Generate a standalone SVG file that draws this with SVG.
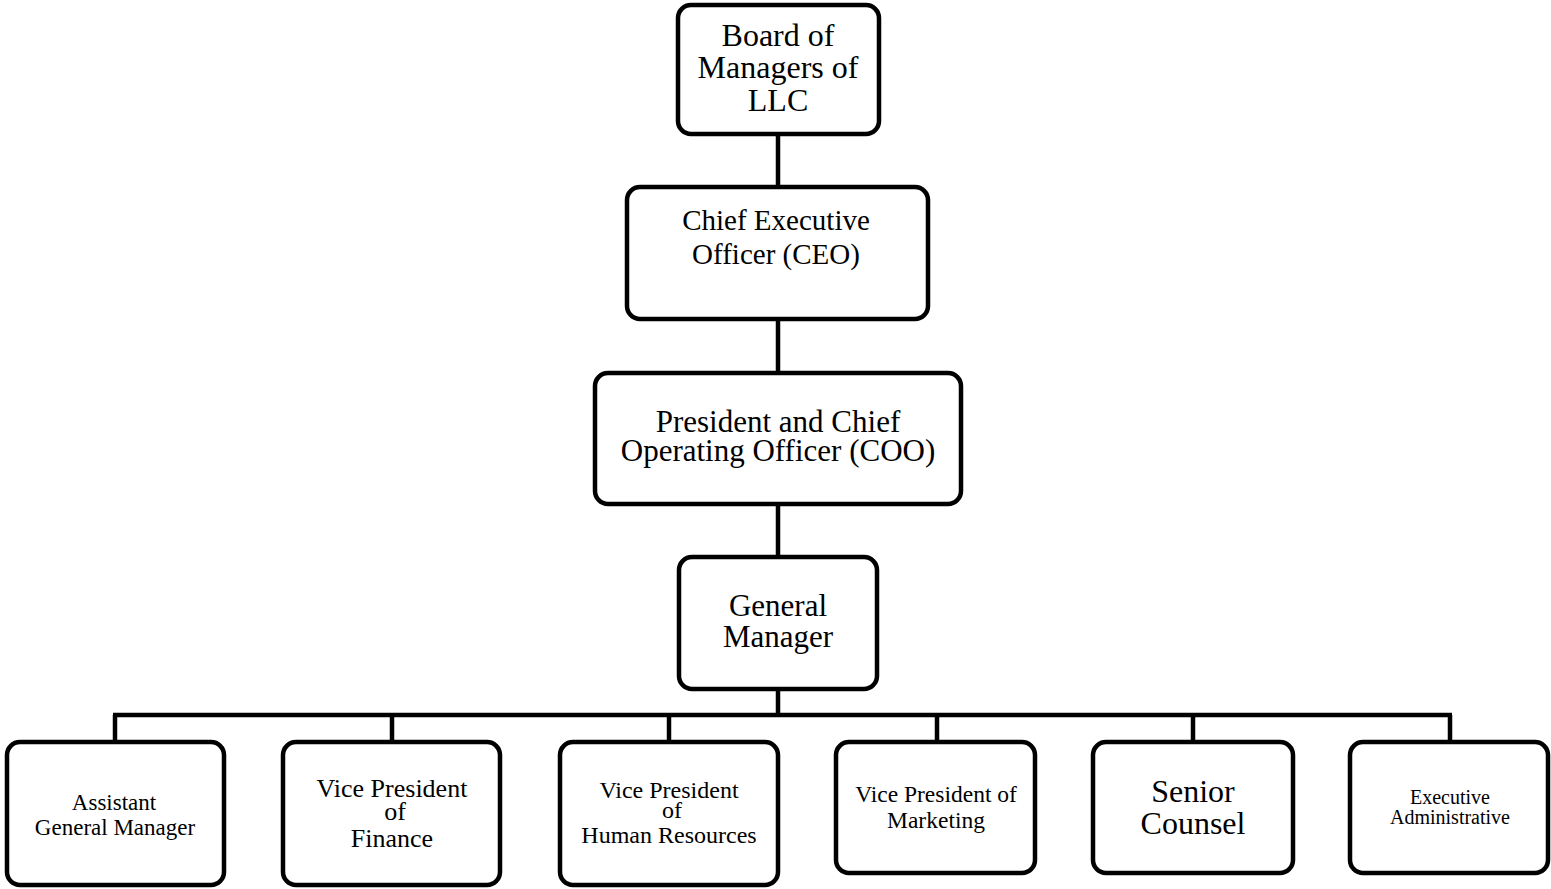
<svg xmlns="http://www.w3.org/2000/svg" width="1551" height="889" viewBox="0 0 1551 889">
<style>
.box{fill:#fff;stroke:#000;stroke-width:4.5}
.ln{stroke:#000;stroke-width:4.5;fill:none}
text{font-family:"Liberation Serif","Times New Roman",serif;fill:#000;text-anchor:middle}
</style>
<rect width="1551" height="889" fill="#fff"/>
<g id="connectors">
<line class="ln" x1="778" y1="134" x2="778" y2="188"/>
<line class="ln" x1="778" y1="319" x2="778" y2="374"/>
<line class="ln" x1="778" y1="504" x2="778" y2="558"/>
<line class="ln" x1="778" y1="689" x2="778" y2="715"/>
<line class="ln" x1="113" y1="715" x2="1452" y2="715"/>
<line class="ln" x1="115" y1="715" x2="115" y2="742"/>
<line class="ln" x1="392" y1="715" x2="392" y2="742"/>
<line class="ln" x1="669" y1="715" x2="669" y2="742"/>
<line class="ln" x1="937" y1="715" x2="937" y2="742"/>
<line class="ln" x1="1193" y1="715" x2="1193" y2="742"/>
<line class="ln" x1="1450" y1="715" x2="1450" y2="742"/>
</g>
<g id="board">
<rect class="box" x="678" y="5" width="201" height="129" rx="13"/>
<text font-size="32"><tspan x="778" y="46">Board of</tspan><tspan x="778" y="78">Managers of</tspan><tspan x="778" y="111">LLC</tspan></text>
</g>
<g id="ceo">
<rect class="box" x="627" y="187" width="301" height="132" rx="13"/>
<text font-size="29"><tspan x="776" y="230">Chief Executive</tspan><tspan x="776" y="264">Officer (CEO)</tspan></text>
</g>
<g id="coo">
<rect class="box" x="595" y="373" width="366" height="131" rx="13"/>
<text font-size="31"><tspan x="778" y="432">President and Chief</tspan><tspan x="778" y="461">Operating Officer (COO)</tspan></text>
</g>
<g id="gm">
<rect class="box" x="679" y="557" width="198" height="132" rx="13"/>
<text font-size="31"><tspan x="778" y="616">General</tspan><tspan x="778" y="647">Manager</tspan></text>
</g>
<g id="agm">
<rect class="box" x="7" y="742" width="217" height="143" rx="13"/>
<text font-size="23"><tspan x="114" y="810">Assistant</tspan><tspan x="115" y="835">General Manager</tspan></text>
</g>
<g id="vpf">
<rect class="box" x="283" y="742" width="217" height="143" rx="13"/>
<text font-size="26"><tspan x="392" y="797">Vice President</tspan><tspan x="395" y="820">of</tspan><tspan x="392" y="847">Finance</tspan></text>
</g>
<g id="vphr">
<rect class="box" x="560" y="742" width="218" height="143" rx="13"/>
<text font-size="24"><tspan x="669" y="798">Vice President</tspan><tspan x="672" y="818">of</tspan><tspan x="669" y="843">Human Resources</tspan></text>
</g>
<g id="vpm">
<rect class="box" x="836" y="742" width="199" height="131" rx="13"/>
<text font-size="23.5"><tspan x="936" y="802">Vice President of</tspan><tspan x="936" y="828">Marketing</tspan></text>
</g>
<g id="counsel">
<rect class="box" x="1093" y="742" width="200" height="131" rx="13"/>
<text font-size="32"><tspan x="1193" y="802">Senior</tspan><tspan x="1193" y="834">Counsel</tspan></text>
</g>
<g id="exec">
<rect class="box" x="1350" y="742" width="198" height="131" rx="13"/>
<text font-size="20"><tspan x="1450" y="804">Executive</tspan><tspan x="1450" y="824">Administrative</tspan></text>
</g>
</svg>
